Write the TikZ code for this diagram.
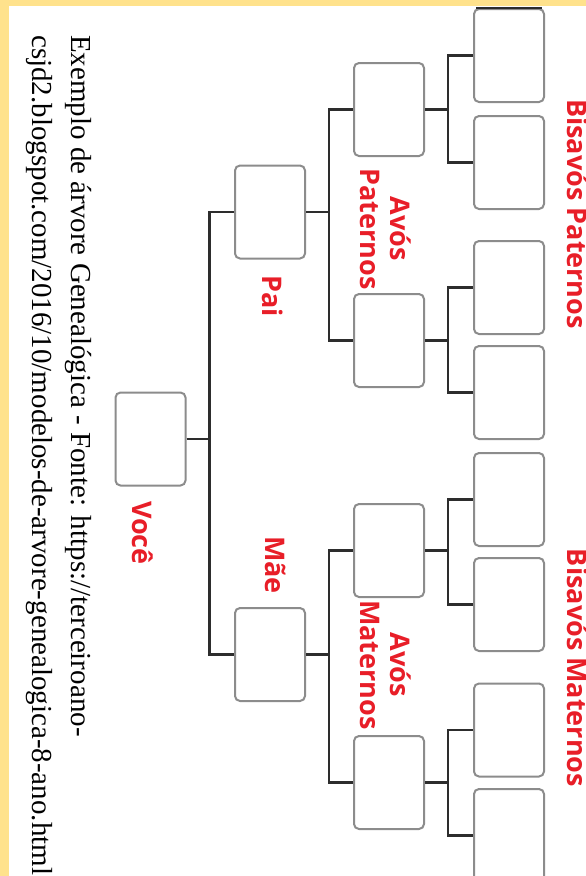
\documentclass[tikz,border=0pt]{standalone}
\usepackage{fontspec}
\setmainfont{Liberation Serif}
\newfontfamily\rotulofont{Open Sans}
\usepackage{tikz}
\usetikzlibrary{positioning,calc}
\definecolor{myyellow}{RGB}{255,226,140}
\definecolor{myred}{RGB}{232,30,40}
\definecolor{mygray}{RGB}{140,140,140}
\definecolor{mydark}{RGB}{45,45,45}

\begin{document}
\begin{tikzpicture}[x=1pt,y=-1pt,
	pessoa/.style={draw=mygray,line width=2pt,rounded corners=5pt,fill=white,
		minimum width=70pt,minimum height=93pt,inner sep=0pt},
	ligacao/.style={draw=mydark,line width=2.2pt},
	rotulo/.style={text=myred,font=\rotulofont\bfseries\fontsize{27}{30}\selectfont,
		rotate=-90,inner sep=0pt,align=center},
	fonte/.style={font=\fontsize{29}{39}\selectfont,rotate=-90,inner sep=0pt,anchor=base west},
	]
	
	% frame
	\useasboundingbox (0,0) rectangle (586,876);
	\clip (0,0) rectangle (586,876);
	\fill[myyellow] (0,0) rectangle (586,876);
	\fill[white] (9,6) rectangle (590,880);
	
	% you
	\node[pessoa] (voce) at (150.5,439) {};
	
	% parents
	\node[pessoa] (pai) at (270,212) {};
	\node[pessoa] (mae) at (270,654.5) {};
	
	% grandparents
	\foreach \i/\y in {1/109.5,2/340.5}
	\node[pessoa] (ap\i) at (389,\y) {};
	\foreach \i/\y in {1/550.5,2/782.5}
	\node[pessoa] (am\i) at (389,\y) {};
	
	% great-grandparents
	\foreach \i/\y in {1/55.5,2/162.5,3/287.5,4/392.5}
	\node[pessoa] (bp\i) at (509,\y) {};
	\foreach \i/\y in {1/499.5,2/604.5,3/730,4/835.5}
	\node[pessoa] (bm\i) at (509,\y) {};
	\draw[mydark,line width=2pt] ([xshift=3pt]bp1.north west) -- ([xshift=-3pt]bp1.north east);
	
	% edges you - parents
	\draw[ligacao] (voce.east) -- ++(23,0) |- (pai.west);
	\draw[ligacao] (voce.east) -- ++(23,0) |- (mae.west);
	
	% edges parents - grandparents
	\draw[ligacao] (pai.east) -- ++(23,0) |- (ap1.west);
	\draw[ligacao] (pai.east) -- ++(23,0) |- (ap2.west);
	\draw[ligacao] (mae.east) -- ++(23,0) |- (am1.west);
	\draw[ligacao] (mae.east) -- ++(23,0) |- (am2.west);
	
	% edges grandparents - great-grandparents
	\draw[ligacao] (ap1.east) -- ++(23,0) |- (bp1.west);
	\draw[ligacao] (ap1.east) -- ++(23,0) |- (bp2.west);
	\draw[ligacao] (ap2.east) -- ++(23,0) |- (bp3.west);
	\draw[ligacao] (ap2.east) -- ++(23,0) |- (bp4.west);
	\draw[ligacao] (am1.east) -- ++(23,0) |- (bm1.west);
	\draw[ligacao] (am1.east) -- ++(23,0) |- (bm2.west);
	\draw[ligacao] (am2.east) -- ++(23,0) |- (bm3.west);
	\draw[ligacao] (am2.east) -- ++(23,0) |- (bm4.west);
	
	% labels
	\node[rotulo] (lvoce) at (143,533) {Você};
	\node[rotulo] (lpai) at (273,296) {Pai};
	\node[rotulo] (lmae) at (276,565) {Mãe};
	\node[rotulo] (lap) at (386,229) {Avós\\Paternos};
	\node[rotulo] (lam) at (386,665) {Avós\\Maternos};
	\node[rotulo,anchor=base] (lbp) at (567,214) {Bisavós Paternos};
	\node[rotulo,anchor=base] (lbm) at (567,668) {Bisavós Maternos};
	
	% source
	\node[fonte] (fonte1) at (71,35) {Exemplo de árvore Genealógica - Fonte: https://terceiroano-};
	\node[fonte] (fonte2) at (32,35) {csjd2.blogspot.com/2016/10/modelos-de-arvore-genealogica-8-ano.html};
	
\end{tikzpicture}
\end{document}
